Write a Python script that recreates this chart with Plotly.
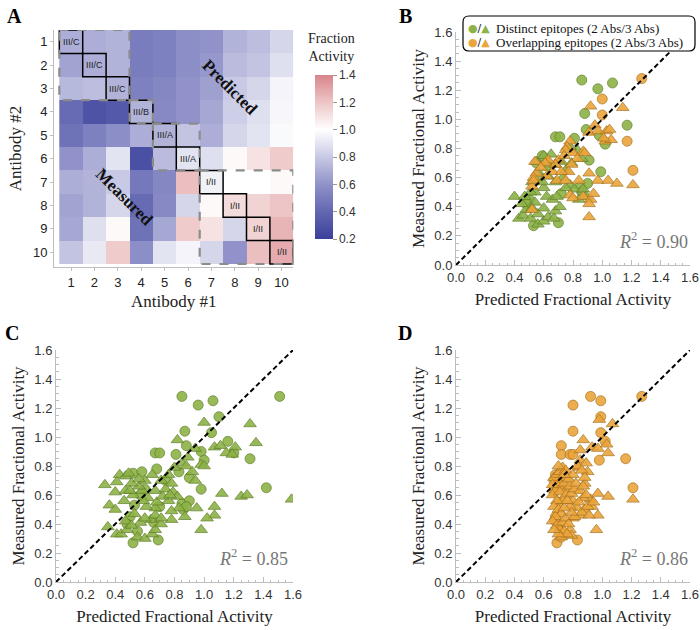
import plotly.graph_objects as go

W, H = 700, 630

# ---------------- data ----------------
antibodies = list(range(1, 11))
epitope_bins = ["III/C", "III/C", "III/C", "III/B", "III/A", "III/A", "I/II", "I/II", "I/II", "I/II"]
bin_groups = [(1, 3), (4, 4), (5, 6), (7, 10)]

# rows = Antibody #2 (1..10), cols = Antibody #1 (1..10)
heat_z = [
    [0.70, 0.70, 0.72, 0.50, 0.52, 0.58, 0.60, 0.72, 0.76, 0.85],
    [0.66, 0.70, 0.72, 0.50, 0.52, 0.58, 0.62, 0.75, 0.78, 0.88],
    [0.74, 0.76, 0.72, 0.52, 0.55, 0.60, 0.65, 0.80, 0.85, 0.96],
    [0.42, 0.30, 0.33, 0.72, 0.56, 0.60, 0.68, 0.82, 0.88, 0.97],
    [0.45, 0.52, 0.58, 0.70, 0.72, 0.78, 0.70, 0.85, 0.90, 0.98],
    [0.60, 0.70, 0.90, 0.28, 0.75, 0.90, 0.88, 1.02, 1.10, 1.18],
    [0.70, 0.72, 0.80, 0.48, 0.55, 1.22, 0.95, 1.00, 1.00, 1.02],
    [0.66, 0.72, 0.85, 0.42, 0.56, 0.85, 1.02, 1.12, 1.15, 1.20],
    [0.68, 0.88, 1.02, 0.45, 0.68, 1.18, 1.10, 0.85, 1.15, 1.25],
    [0.78, 0.92, 1.18, 0.58, 0.90, 0.96, 0.85, 0.60, 1.22, 1.28],
]
cbar_ticks = [0.2, 0.4, 0.6, 0.8, 1.0, 1.2, 1.4]

# Panel B: combined model
b_dist_circ_x = [0.86, 0.97, 1.07, 0.88, 0.89, 1.17, 1.02, 0.98, 0.68, 0.71, 0.81, 0.91, 0.99, 0.59, 0.55,
                 0.72, 0.53, 0.70, 0.50, 0.57, 0.85, 0.90, 0.86, 0.62, 0.48]
b_dist_circ_y = [1.27, 1.21, 1.25, 1.04, 0.93, 0.96, 0.83, 0.89, 0.88, 0.88, 0.87, 0.72, 0.64, 0.75, 0.70,
                 0.49, 0.27, 0.29, 0.45, 0.60, 0.54, 0.56, 0.50, 0.70, 0.42]
b_dist_tri_x = [0.40, 0.43, 0.46, 0.48, 0.51, 0.56, 0.60, 0.63, 0.67, 0.68, 0.71, 0.60, 0.56, 0.54, 0.62,
                0.66, 0.69, 0.60, 0.54, 0.52, 0.59, 0.63, 0.68, 0.73, 0.78, 0.81, 0.87, 0.89, 0.84, 0.75,
                0.56, 0.55, 0.65, 0.68, 0.72, 0.60, 0.75, 0.79, 0.83, 0.86, 0.78, 0.51, 0.47, 0.45, 0.52,
                0.63]
b_dist_tri_y = [0.47, 0.32, 0.34, 0.38, 0.32, 0.28, 0.30, 0.33, 0.32, 0.37, 0.40, 0.39, 0.35, 0.43, 0.47,
                0.45, 0.47, 0.53, 0.50, 0.57, 0.57, 0.61, 0.57, 0.60, 0.55, 0.52, 0.52, 0.47, 0.45, 0.53,
                0.64, 0.71, 0.76, 0.69, 0.71, 0.75, 0.65, 0.70, 0.79, 0.73, 0.81, 0.50, 0.47, 0.42, 0.39,
                0.67]
b_over_circ_x = [1.27, 1.00, 1.00, 1.17, 1.21]
b_over_circ_y = [1.28, 1.14, 1.03, 0.85, 0.65]
b_over_tri_x = [0.92, 1.14, 0.91, 0.95, 0.97, 1.03, 1.05, 1.02, 1.06, 1.01, 0.78, 0.76, 0.75, 0.80, 0.87,
                0.83, 0.88, 0.79, 0.77, 0.70, 0.68, 0.63, 0.66, 0.62, 0.55, 0.53, 0.52, 0.54, 0.61, 0.72,
                0.69, 0.75, 0.91, 0.97, 1.04, 1.10, 1.21, 0.84, 0.78, 0.80, 0.87, 0.92, 0.94, 0.91, 0.91,
                0.52, 0.53, 0.58, 0.74]
b_over_tri_y = [1.09, 1.08, 0.91, 0.96, 0.92, 0.92, 0.93, 0.85, 0.86, 0.87, 0.85, 0.81, 0.79, 0.77, 0.78,
                0.73, 0.77, 0.69, 0.64, 0.72, 0.69, 0.72, 0.64, 0.61, 0.63, 0.60, 0.54, 0.71, 0.70, 0.64,
                0.58, 0.58, 0.63, 0.58, 0.58, 0.56, 0.55, 0.58, 0.48, 0.46, 0.47, 0.45, 0.49, 0.42, 0.33,
                0.38, 0.58, 0.67, 0.75]

# Panel C: distinct-epitope model applied to all combinations
c_circ_x = [0.85, 0.96, 1.06, 1.51, 1.10, 0.87, 1.05, 0.88, 1.16, 0.98, 1.20, 0.67, 0.70, 0.81, 1.00, 1.31,
            1.42, 0.98, 0.52, 0.58, 0.68, 0.83, 0.90, 0.57, 0.53, 0.70, 0.85, 0.90, 0.86, 0.88, 0.50, 0.52,
            0.69, 0.66, 0.60, 0.74, 0.48, 0.55]
c_circ_y = [1.28, 1.22, 1.25, 1.28, 1.14, 1.04, 1.03, 0.94, 0.97, 0.90, 0.89, 0.89, 0.89, 0.88, 0.84, 0.85,
            0.65, 0.64, 0.75, 0.76, 0.78, 0.76, 0.72, 0.60, 0.53, 0.52, 0.54, 0.56, 0.50, 0.52, 0.45, 0.27,
            0.29, 0.41, 0.64, 0.70, 0.40, 0.35]
c_tri_x = [1.00, 1.31, 1.35, 0.82, 0.94, 1.07, 1.11, 1.15, 0.98, 0.89, 0.33, 1.12, 1.25, 1.29, 1.59, 1.07,
           1.07, 1.02, 0.95, 0.98, 0.78, 0.35, 0.36, 0.40, 0.43, 0.47, 0.49, 0.41, 0.44, 0.48, 0.55, 0.60,
           0.65, 0.67, 0.71, 0.64, 0.57, 0.60, 0.53, 0.47, 0.51, 0.46, 0.52, 0.58, 0.62, 0.67, 0.56, 0.51,
           0.60, 0.65, 0.71, 0.76, 0.78, 0.80, 0.85, 0.88, 0.92, 0.94, 0.74, 0.79, 0.76, 0.82, 0.67, 0.61,
           0.59, 0.83, 0.87, 0.78, 0.67, 0.71, 0.40, 0.47, 0.41, 0.50, 0.56, 0.68, 0.72, 0.77, 1.00, 1.21,
           1.19]
c_tri_y = [1.10, 1.09, 0.96, 0.98, 0.92, 0.93, 0.94, 0.89, 0.81, 0.86, 0.67, 0.61, 0.59, 0.60, 0.57, 0.52,
           0.46, 0.44, 0.51, 0.36, 0.43, 0.38, 0.53, 0.62, 0.74, 0.73, 0.75, 0.33, 0.33, 0.36, 0.31, 0.30,
           0.33, 0.36, 0.40, 0.43, 0.41, 0.44, 0.47, 0.42, 0.39, 0.56, 0.60, 0.63, 0.58, 0.63, 0.66, 0.68,
           0.70, 0.74, 0.70, 0.74, 0.68, 0.79, 0.82, 0.80, 0.76, 0.70, 0.64, 0.62, 0.56, 0.59, 0.51, 0.52,
           0.56, 0.51, 0.45, 0.49, 0.46, 0.44, 0.50, 0.63, 0.69, 0.63, 0.71, 0.55, 0.59, 0.60, 0.80, 0.93,
           0.88]

# Panel D: overlapping-epitope model applied to all combinations
d_circ_x = [0.92, 0.99, 0.80, 1.27, 0.99, 0.80, 0.99, 0.72, 1.02, 0.72, 0.78, 0.80, 0.98, 1.16, 1.21, 0.83,
            0.69, 0.68, 0.67, 0.68, 0.71, 0.67, 0.70, 0.74, 0.68, 0.72]
d_circ_y = [1.28, 1.25, 1.22, 1.28, 1.14, 1.04, 1.03, 0.94, 0.97, 0.88, 0.88, 0.88, 0.84, 0.85, 0.65, 0.29,
            0.27, 0.74, 0.70, 0.45, 0.38, 0.62, 0.55, 0.64, 0.42, 0.31]
d_tri_x = [0.98, 1.07, 0.87, 0.93, 0.97, 1.03, 1.04, 0.85, 0.85, 0.89, 0.84, 0.90, 0.88, 0.97, 1.04, 1.21,
           0.92, 0.87, 0.93, 0.88, 0.83, 0.85, 0.97, 0.96, 0.80, 0.78, 0.79, 0.73,
           0.67, 0.69, 0.71, 0.73, 0.75, 0.72, 0.70, 0.68, 0.66, 0.71, 0.74, 0.76, 0.78, 0.75, 0.73, 0.69,
           0.67, 0.70, 0.72, 0.68, 0.66, 0.69, 0.71, 0.73, 0.75, 0.77, 0.74, 0.72, 0.76, 0.70, 0.67, 0.78,
           0.80, 0.79, 0.81, 0.77, 0.80, 0.82, 0.83, 0.86, 0.88, 0.85, 0.87, 0.89, 0.84, 0.86, 0.90, 0.94,
           0.91, 0.81, 0.79, 0.74, 0.76, 0.66, 0.70, 0.74]
d_tri_y = [1.12, 1.09, 0.98, 0.93, 0.92, 0.95, 0.89, 0.91, 0.84, 0.82, 0.79, 0.76, 0.68, 0.61, 0.59, 0.57,
           0.57, 0.58, 0.52, 0.50, 0.51, 0.46, 0.46, 0.36, 0.44, 0.36, 0.32, 0.33,
           0.72, 0.74, 0.76, 0.79, 0.77, 0.70, 0.66, 0.63, 0.60, 0.62, 0.68, 0.72, 0.66, 0.60, 0.56, 0.56,
           0.52, 0.50, 0.47, 0.45, 0.42, 0.39, 0.36, 0.41, 0.44, 0.40, 0.35, 0.31, 0.33, 0.33, 0.36, 0.52,
           0.56, 0.61, 0.64, 0.71, 0.74, 0.68, 0.80, 0.77, 0.72, 0.63, 0.66, 0.60, 0.55, 0.48, 0.52, 0.55,
           0.46, 0.45, 0.48, 0.51, 0.56, 0.67, 0.80, 0.74]

ref_line = [0.0, 1.6]
r2_values = {"B": 0.90, "C": 0.85, "D": 0.86}

# ---------------- styling ----------------
SERIF = "Liberation Serif, Times New Roman, serif"
SANS = "Liberation Sans, Arial, sans-serif"
GREEN, GREEN_EDGE = "#8db246", "#5f7f2a"
ORANGE, ORANGE_EDGE = "#eba53b", "#a8731f"
AXIS_GRAY = "#bdbdbd"


def dx(a, b):
    return [a / W, b / W]


def dy(top, bottom):
    return [1 - bottom / H, 1 - top / H]


fig = go.Figure()

# ---------------- Panel A heatmap ----------------
colorscale = [
    [0.0, "#3a409b"],
    [0.1667, "#6367b1"],
    [0.3333, "#9092c9"],
    [0.5, "#c8c9e4"],
    [0.6667, "#ffffff"],
    [0.8333, "#edc5c6"],
    [1.0, "#d8858a"],
]
fig.add_trace(go.Heatmap(
    z=heat_z, x=antibodies, y=antibodies, zmin=0.2, zmax=1.4, colorscale=colorscale,
    xaxis="x", yaxis="y", hoverinfo="skip",
    colorbar=dict(
        x=315 / W, xanchor="left", y=1 - 239 / H, yanchor="bottom",
        len=164 / H, lenmode="fraction", thickness=18, thicknessmode="pixels",
        xpad=0, ypad=0, outlinewidth=0,
        tickvals=cbar_ticks, ticktext=[f"{v:.1f}" for v in cbar_ticks], ticks="outside", ticklen=4,
        tickcolor="#999", tickfont=dict(family=SANS, size=12, color="#333"),
    ),
))

shapes = []
for k in antibodies:
    shapes.append(dict(type="rect", xref="x", yref="y", x0=k - 0.5, x1=k + 0.5, y0=k - 0.5, y1=k + 0.5,
                       line=dict(color="black", width=1.5)))
for a, b in bin_groups:
    shapes.append(dict(type="rect", xref="x", yref="y", x0=a - 0.5, x1=b + 0.5, y0=a - 0.5, y1=b + 0.5,
                       line=dict(color="#8c8c8c", width=2.2, dash="dash")))

annotations = []
for k, lab in zip(antibodies, epitope_bins):
    annotations.append(dict(xref="x", yref="y", x=k, y=k, text=lab, showarrow=False,
                            font=dict(family=SANS, size=9, color="#222")))
annotations.append(dict(xref="x", yref="y", x=7.8, y=2.95, text="<b>Predicted</b>", showarrow=False,
                        textangle=45, font=dict(family=SERIF, size=17, color="#111")))
annotations.append(dict(xref="x", yref="y", x=3.3, y=7.65, text="<b>Measured</b>", showarrow=False,
                        textangle=45, font=dict(family=SERIF, size=17, color="#111")))
annotations.append(dict(xref="paper", yref="paper", x=331 / W, y=1 - 48 / H, text="Fraction<br>Activity",
                        showarrow=False, xanchor="center", yanchor="middle",
                        font=dict(family=SERIF, size=14, color="#222")))

# ---------------- scatter panels ----------------
def markers(x, y, sym, fill, edge, ax):
    return go.Scatter(
        x=x, y=y, mode="markers", xaxis="x" + ax, yaxis="y" + ax, showlegend=False, hoverinfo="skip",
        marker=dict(symbol=sym, size=10 if sym == "circle" else 11, color=fill, opacity=0.9,
                    line=dict(color=edge, width=0.8)),
    )


def ref(ax):
    return go.Scatter(x=ref_line, y=ref_line, mode="lines", xaxis="x" + ax, yaxis="y" + ax,
                      showlegend=False, hoverinfo="skip",
                      line=dict(color="black", width=2, dash="5px,3px"))


# B
fig.add_trace(markers(b_dist_circ_x, b_dist_circ_y, "circle", GREEN, GREEN_EDGE, "2"))
fig.add_trace(markers(b_dist_tri_x, b_dist_tri_y, "triangle-up", GREEN, GREEN_EDGE, "2"))
fig.add_trace(markers(b_over_circ_x, b_over_circ_y, "circle", ORANGE, ORANGE_EDGE, "2"))
fig.add_trace(markers(b_over_tri_x, b_over_tri_y, "triangle-up", ORANGE, ORANGE_EDGE, "2"))
fig.add_trace(ref("2"))
# C
fig.add_trace(markers(c_circ_x, c_circ_y, "circle", GREEN, GREEN_EDGE, "3"))
fig.add_trace(markers(c_tri_x, c_tri_y, "triangle-up", GREEN, GREEN_EDGE, "3"))
fig.add_trace(ref("3"))
# D
fig.add_trace(markers(d_circ_x, d_circ_y, "circle", ORANGE, ORANGE_EDGE, "4"))
fig.add_trace(markers(d_tri_x, d_tri_y, "triangle-up", ORANGE, ORANGE_EDGE, "4"))
fig.add_trace(ref("4"))


def sc_axis(domain, title, anchor, is_x):
    return dict(
        domain=domain, anchor=anchor, range=[0, 1.6], dtick=0.2, tick0=0, tickformat=".1f",
        showline=True, linecolor=AXIS_GRAY, linewidth=1, ticks="inside", ticklen=5, tickcolor=AXIS_GRAY,
        minor=dict(ticks="inside", ticklen=2.5, dtick=0.05, tickcolor=AXIS_GRAY),
        showgrid=False, zeroline=False, automargin=False,
        tickfont=dict(family=SANS, size=13, color="#333"),
        title=dict(text=title, font=dict(family=SERIF, size=17, color="#222"), standoff=9 if is_x else 5),
    )


hm_common = dict(showgrid=False, zeroline=False, showline=True, linecolor=AXIS_GRAY, linewidth=1,
                 ticks="outside", ticklen=3, tickcolor=AXIS_GRAY, tickvals=antibodies, automargin=False,
                 tickfont=dict(family=SANS, size=13, color="#222"))

fig.update_layout(
    width=W, height=H, margin=dict(l=0, r=0, t=0, b=0),
    paper_bgcolor="white", plot_bgcolor="rgba(0,0,0,0)",
    xaxis=dict(domain=dx(54, 293.3), anchor="y", range=[0.5 - 5.3 / 23.4, 10.5],
               title=dict(text="Antibody #1", font=dict(family=SERIF, size=17, color="#222"), standoff=6),
               **hm_common),
    yaxis=dict(domain=dy(30, 267), anchor="x", range=[10.5 + 3 / 23.4, 0.5],
               title=dict(text="Antibody #2", font=dict(family=SERIF, size=17, color="#222"), standoff=6),
               **hm_common),
    xaxis2=sc_axis(dx(456, 690), "Predicted Fractional Activity", "y2", True),
    yaxis2=sc_axis(dy(32, 265), "Measured Fractional Activity", "x2", False),
    xaxis3=sc_axis(dx(56, 293), "Predicted Fractional Activity", "y3", True),
    yaxis3=sc_axis(dy(350, 582), "Measured Fractional Activity", "x3", False),
    xaxis4=sc_axis(dx(456, 690), "Predicted Fractional Activity", "y4", True),
    yaxis4=sc_axis(dy(350, 582), "Measured Fractional Activity", "x4", False),
)

# panel letters
for letter, (px, py) in {"A": (14, 16), "B": (405, 16), "C": (12, 333), "D": (405, 333)}.items():
    annotations.append(dict(xref="paper", yref="paper", x=px / W, y=1 - py / H, text=f"<b>{letter}</b>",
                            showarrow=False, xanchor="center", yanchor="middle",
                            font=dict(family=SERIF, size=20, color="black")))

# R^2 labels
for key, (px, py) in {"B": (690, 240), "C": (290, 557), "D": (690, 557)}.items():
    annotations.append(dict(xref="paper", yref="paper", x=px / W, y=1 - py / H,
                            text=f"<i>R</i><sup>2</sup> = {r2_values[key]:.2f}", showarrow=False,
                            xanchor="right", yanchor="middle",
                            font=dict(family=SERIF, size=18, color="#777")))

# custom legend for panel B
lx0, lx1, ly0, ly1 = 463 / W, 695 / W, 1 - 51 / H, 1 - 16 / H
rx, ry = 6 / W, 6 / H
legend_path = (f"M {lx0 + rx},{ly0} L {lx1 - rx},{ly0} Q {lx1},{ly0} {lx1},{ly0 + ry} "
               f"L {lx1},{ly1 - ry} Q {lx1},{ly1} {lx1 - rx},{ly1} L {lx0 + rx},{ly1} "
               f"Q {lx0},{ly1} {lx0},{ly1 - ry} L {lx0},{ly0 + ry} Q {lx0},{ly0} {lx0 + rx},{ly0} Z")
shapes.append(dict(type="path", xref="paper", yref="paper", path=legend_path,
                   fillcolor="white", line=dict(color="black", width=1.2), layer="above"))
legend_rows = [(GREEN, "Distinct epitopes (2 Abs/3 Abs)", 28.5), (ORANGE, "Overlapping epitopes (2 Abs/3 Abs)", 43)]
for col, label, py in legend_rows:
    annotations.append(dict(xref="paper", yref="paper", x=466 / W, y=1 - py / H, xanchor="left",
                            yanchor="middle", showarrow=False,
                            text=f"<span style='color:{col}'>●</span>/<span style='color:{col}'>▲</span>",
                            font=dict(family="DejaVu Sans", size=11, color="#222")))
    annotations.append(dict(xref="paper", yref="paper", x=494 / W, y=1 - py / H, xanchor="left",
                            yanchor="middle", showarrow=False, text=label,
                            font=dict(family=SERIF, size=13, color="#111")))

fig.update_layout(shapes=shapes, annotations=annotations)
fig.write_html(
    "out.html",
    config={"displayModeBar": False},
    post_script="document.body.style.margin='0';document.body.style.padding='0';"
                "document.body.style.overflow='hidden';",
)
